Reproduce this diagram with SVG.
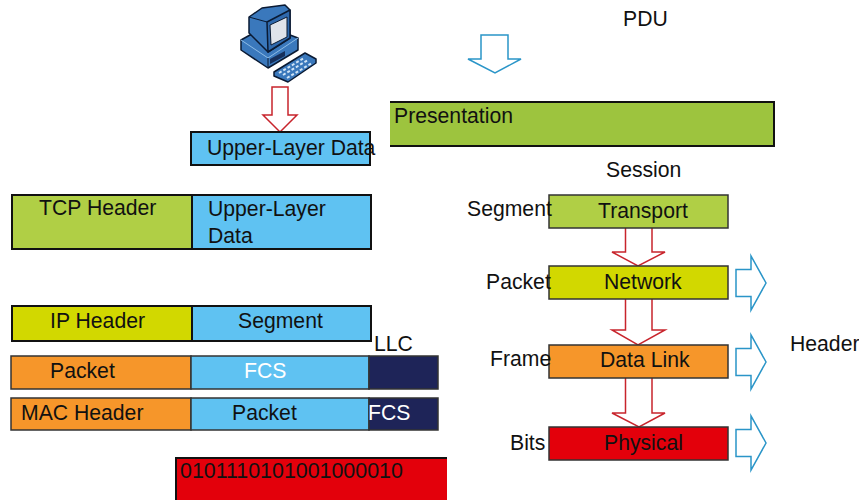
<svg xmlns="http://www.w3.org/2000/svg" width="859" height="501" viewBox="0 0 859 501">
<style>
text{font-family:"Liberation Sans",Arial,sans-serif;font-size:21.200px;fill:#111}
.w{fill:#fff}
.k{stroke:#111;stroke-width:2}
.g{stroke:#333;stroke-width:1.5}
.blue{fill:#5fc2f2}.lime{fill:#b0cf45}.yel{fill:#d2d800}.org{fill:#f6962a}.red{fill:#e3000b}.navy{fill:#1e2458}
.ra{fill:#fff;stroke:#c8242c;stroke-width:1.5}
.ba{fill:#fff;stroke:#2a95c8;stroke-width:1.5}
.o{stroke:#0a1a33;stroke-width:1.5;stroke-linejoin:round}
</style>
<defs>
<path id="ra" d="M0 -13.500H15V-27L30 0L15 27V13.500H0Z"/>
</defs>
<g id="connectors">
<path class="ra" d="M272 87H288V115H297L280 132L263 115H272Z"/>
<path class="ba" d="M481 35H508V59H521L495 73L468 59H481Z"/>
<path class="ra" d="M625.500 228V252H612L638 266L665 252H652V228"/>
<path class="ra" d="M625.500 299V330H612L638 345L665 330H652V299"/>
<path class="ra" d="M625.500 378V413H612L639 427L665 413H652V378"/>
<use href="#ra" class="ba" x="736" y="283"/>
<use href="#ra" class="ba" x="736" y="362"/>
<use href="#ra" class="ba" x="736" y="443"/>
</g>
<g id="computer">
<path class="o" d="M241 40L250 35L290 35L298 38V50L268 68L241 50Z" fill="#3a78bc"/>
<path d="M241 40L268 58L298 38" fill="none" stroke="#8fbde6"/>
<path d="M268 58V68" stroke="#0a1a33" fill="none"/>
<path d="M270 59L285 51V56L270 64Z" fill="#16305c"/>
<path class="o" d="M249 17L262 8L285 5L290 10V38L268 52L249 33Z" fill="#3a78bc"/>
<path class="o" d="M267 22L290 10V38L268 52Z" fill="#2f69ad"/>
<path d="M270 25L287 17V37L271 45Z" fill="#dfe3ea" stroke="#0a1a33"/>
<path d="M249 17L267 22" stroke="#0a1a33" fill="none"/>
<path class="o" d="M274 72L305 53L316 59V63L288 82L274 76Z" fill="#3a78bc"/>
<path d="M279 73L304 58M283 75L308 60M287 78L312 63" stroke="#cfe3f5" stroke-width="2" stroke-dasharray="3 2" fill="none"/>
</g>
<g id="upper"><rect class="blue k" x="191" y="132" width="179" height="33"/><text x="207" y="155">Upper-Layer Data</text></g>
<g id="pdu"><text x="623" y="26">PDU</text></g>
<g id="presentation"><path d="M390 102H774V146H390Z" fill="#9dc43e"/><path d="M390 102H774V146H390" fill="none" stroke="#111" stroke-width="2"/><text x="394" y="123">Presentation</text></g>
<g id="session"><text x="606" y="177">Session</text></g>
<g id="tcp"><rect class="lime k" x="12" y="195" width="180" height="54"/><text x="39" y="215">TCP Header</text></g>
<g id="tcpdata"><rect class="blue k" x="192" y="195" width="179" height="54"/><text x="208" y="216">Upper-Layer</text><text x="208" y="243">Data</text></g>
<g id="ip"><rect class="yel k" x="12" y="306" width="180" height="35"/><text x="50" y="328">IP Header</text></g>
<g id="seg"><rect class="blue k" x="192" y="306" width="179" height="35"/><text x="238" y="328">Segment</text></g>
<g id="llc"><text x="374" y="351">LLC</text></g>
<g id="packet1"><rect class="org g" x="11" y="356" width="180" height="33"/><text x="50" y="378">Packet</text></g>
<g id="fcs1"><rect class="blue g" x="191" y="356" width="178" height="33"/><text class="w" x="244" y="378">FCS</text></g>
<g id="navy1"><rect class="navy g" x="369" y="356" width="69" height="33"/></g>
<g id="mac"><rect class="org g" x="11" y="398" width="180" height="32"/><text x="21" y="420">MAC Header</text></g>
<g id="packet2"><rect class="blue g" x="191" y="398" width="178" height="32"/><text x="232" y="420">Packet</text></g>
<g id="fcs2"><rect class="navy g" x="369" y="398" width="69" height="32"/><text class="w" x="368" y="420">FCS</text></g>
<g id="bits"><path d="M176 500V458H447V500Z" class="red"/><path d="M176 500V458H447" fill="none" stroke="#111" stroke-width="2"/><text x="180" y="478" style="font-size:21.400px">0101110101001000010</text></g>
<g id="transport"><rect class="lime g" x="549" y="195" width="179" height="33"/><text x="598" y="218">Transport</text></g>
<g id="network"><rect class="yel g" x="549" y="266" width="179" height="33"/><text x="604" y="289">Network</text></g>
<g id="datalink"><rect class="org g" x="549" y="345" width="179" height="33"/><text x="600" y="367">Data Link</text></g>
<g id="physical"><rect class="red g" x="549" y="427" width="179" height="33"/><text x="604" y="450">Physical</text></g>
<text x="467" y="216">Segment</text>
<text x="486" y="289">Packet</text>
<text x="490" y="366">Frame</text>
<text x="510" y="450">Bits</text>
<text x="790" y="351">Header</text>
</svg>
